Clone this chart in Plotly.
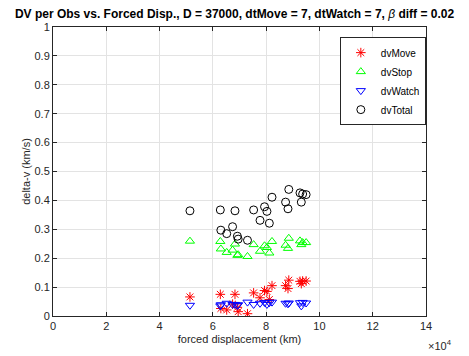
import plotly.graph_objects as go

# forced displacement (units of 1e4 km)
disp = [5.14, 6.28, 6.30, 6.52, 6.83, 6.74, 6.92, 6.95, 7.30, 7.53, 7.77,
        7.94, 8.03, 8.12, 8.22, 8.73, 8.85, 8.82, 9.27, 9.37, 9.50, 9.32]
dv_move = [0.066, 0.075, 0.026, 0.021, 0.075, 0.041, 0.030, 0.015, 0.008, 0.080, 0.063,
           0.088, 0.085, 0.057, 0.105, 0.105, 0.124, 0.095, 0.120, 0.121, 0.121, 0.112]
dv_stop = [0.259, 0.258, 0.232, 0.220, 0.249, 0.228, 0.210, 0.212, 0.206, 0.247, 0.224,
           0.243, 0.237, 0.218, 0.258, 0.245, 0.269, 0.234, 0.260, 0.254, 0.254, 0.247]
dv_watch = [0.037, 0.035, 0.039, 0.044, 0.040, 0.040, 0.036, 0.039, 0.048, 0.040, 0.044,
            0.047, 0.040, 0.046, 0.048, 0.044, 0.045, 0.042, 0.046, 0.047, 0.045, 0.035]
dv_total = [0.364, 0.367, 0.297, 0.285, 0.364, 0.309, 0.276, 0.266, 0.262, 0.367, 0.331,
            0.378, 0.362, 0.321, 0.411, 0.394, 0.438, 0.371, 0.426, 0.422, 0.420, 0.394]

x_ticks = [0, 2, 4, 6, 8, 10, 12, 14]
y_ticks = [0, 0.1, 0.2, 0.3, 0.4, 0.5, 0.6, 0.7, 0.8, 0.9, 1]

x_vals = [v * 1e4 for v in disp]

series = [
    ("dvMove", dv_move, "asterisk-open", "#FF0000"),
    ("dvStop", dv_stop, "triangle-up-open", "#00FF00"),
    ("dvWatch", dv_watch, "triangle-down-open", "#0000FF"),
    ("dvTotal", dv_total, "circle-open", "#000000"),
]

fig = go.Figure()
for name, ys, sym, col in series:
    fig.add_trace(go.Scatter(
        x=x_vals, y=ys, mode="markers", name=name,
        marker=dict(symbol=sym, size=8, color=col, line=dict(color=col, width=1)),
    ))

FONT = "Liberation Sans, Arial"
axis_common = dict(
    showline=True, linecolor="#262626", linewidth=1, mirror="ticks",
    ticks="inside", ticklen=4, tickcolor="#262626",
    showgrid=True, gridcolor="#E3E3E3", gridwidth=1, zeroline=False,
    tickfont=dict(family=FONT, size=11, color="#262626"),
)

fig.update_layout(
    width=469, height=356,
    margin=dict(l=53, r=43, t=27, b=37),
    paper_bgcolor="white", plot_bgcolor="white",
    title=dict(
        text="<b>DV per Obs vs. Forced Disp., D = 37000, dtMove = 7, dtWatch = 7, </b><i>β</i><b> diff = 0.02</b>",
        x=0.5, xanchor="center", y=0.962, yanchor="middle",
        font=dict(family=FONT, size=12, color="black"),
    ),
    xaxis=dict(
        range=[0, 14e4], tickvals=[v * 1e4 for v in x_ticks],
        ticktext=[str(v) for v in x_ticks],
        title=dict(text="forced displacement (km)", standoff=4,
                   font=dict(family=FONT, size=11, color="#262626")),
        **axis_common,
    ),
    yaxis=dict(
        range=[0, 1], tickvals=y_ticks,
        ticktext=["0"] + [f"{v:g}" for v in y_ticks[1:]],
        title=dict(text="delta-v (km/s)", standoff=1,
                   font=dict(family=FONT, size=11, color="#262626")),
        **axis_common,
    ),
    legend=dict(
        x=0.769, y=0.965, xanchor="left", yanchor="top",
        bgcolor="white", bordercolor="#262626", borderwidth=1,
        font=dict(family=FONT, size=10, color="black"),
        tracegroupgap=0, itemwidth=30,
    ),
    showlegend=True,
)

fig.add_annotation(
    text="×10<sup>4</sup>", xref="paper", yref="paper", x=1.0, y=-0.07,
    xanchor="left", yanchor="top", showarrow=False,
    font=dict(family=FONT, size=11, color="#262626"),
)

fig.write_html("out.html")
